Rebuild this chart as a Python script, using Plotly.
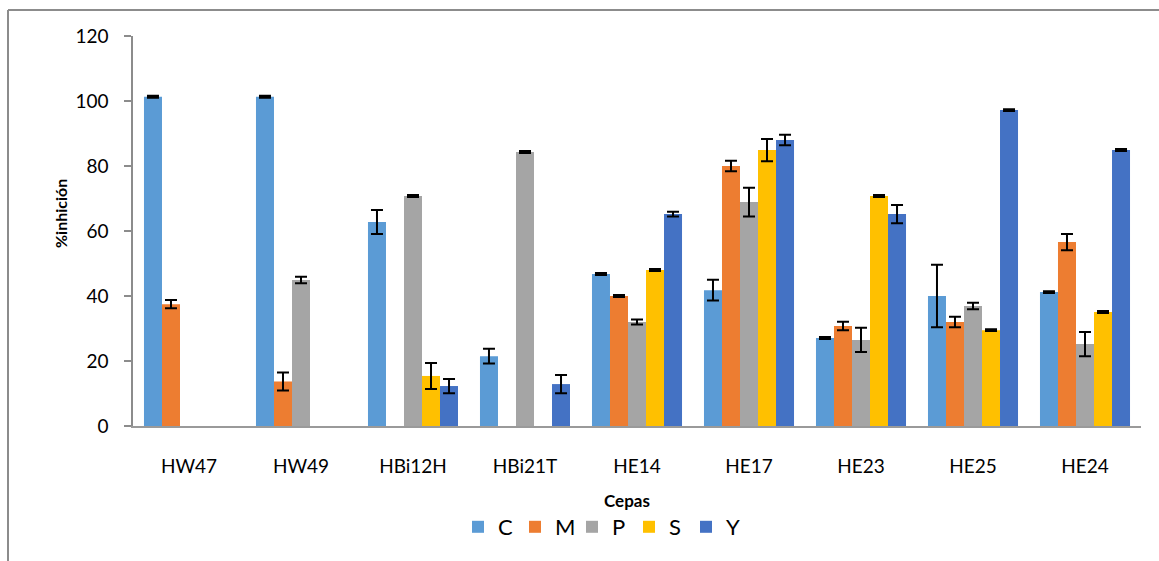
import plotly.graph_objects as go

cepas = ["HW47", "HW49", "HBi12H", "HBi21T", "HE14", "HE17", "HE23", "HE25", "HE24"]

c_vals = [101.3, 101.3, 62.8, 21.5, 46.8, 41.8, 27.1, 40.0, 41.2]
c_err = [0.3, 0.3, 3.7, 2.3, 0.3, 3.2, 0.3, 9.6, 0.3]

m_vals = [37.5, 13.7, None, None, 40.0, 80.0, 30.8, 32.0, 56.6]
m_err = [1.3, 2.8, 0, 0, 0.3, 1.6, 1.3, 1.6, 2.5]

p_vals = [None, 44.9, 70.8, 84.3, 32.0, 68.9, 26.5, 36.9, 25.2]
p_err = [0, 1.0, 0.3, 0.3, 0.8, 4.4, 3.7, 1.0, 3.7]

s_vals = [None, None, 15.4, None, 48.0, 84.9, 70.8, 29.5, 35.1]
s_err = [0, 0, 4.0, 0, 0.3, 3.4, 0.3, 0.3, 0.3]

y_vals = [None, None, 12.3, 12.9, 65.2, 88.0, 65.2, 97.2, 84.9]
y_err = [0, 0, 2.2, 2.8, 0.7, 1.6, 2.8, 0.3, 0.3]

series = [
    ("C", c_vals, c_err, "#5B9BD5"),
    ("M", m_vals, m_err, "#ED7D31"),
    ("P", p_vals, p_err, "#A5A5A5"),
    ("S", s_vals, s_err, "#FFC000"),
    ("Y", y_vals, y_err, "#4472C4"),
]

FONT = "Lato"

fig = go.Figure()
for name, vals, errs, color in series:
    fig.add_trace(go.Bar(
        name=name, x=cepas, y=vals,
        marker=dict(color=color, line=dict(width=0)),
        error_y=dict(type="data", array=errs, visible=True,
                     color="black", thickness=2, width=6),
    ))

# coordinates of the plot area in pixels
L, R, T, B = 133, 18, 36, 135
W, H = 1159, 561
pw, ph = W - L - R, H - T - B

def px_x(p):
    return (p - L) / pw

def px_y(p):
    return (H - B - p) / ph

fig.update_layout(
    width=W, height=H,
    barmode="group", bargap=0.196, bargroupgap=0,
    paper_bgcolor="white", plot_bgcolor="white",
    font=dict(family=FONT, color="#000000", size=19),
    margin=dict(l=L, r=R, t=T, b=B),
    showlegend=True,
    legend=dict(orientation="h", x=px_x(458), y=px_y(527),
                xanchor="left", yanchor="middle",
                font=dict(size=22, family=FONT), itemwidth=30,
                entrywidth=12, entrywidthmode="pixels",
                traceorder="normal"),
    xaxis=dict(showline=True, linecolor="#9a9a9a", linewidth=1.5,
               ticks="", showgrid=False, ticklabelstandoff=22,
               tickfont=dict(size=19, family=FONT)),
    yaxis=dict(range=[0, 120], dtick=20, showline=True, linecolor="#8c8c8c",
               linewidth=1.5, ticks="outside", ticklen=7, tickcolor="#8c8c8c",
               tickwidth=1.5, showgrid=False, zeroline=False,
               ticklabelstandoff=12, tickfont=dict(size=19, family=FONT)),
    annotations=[
        dict(text="<b>Cepas</b>", x=px_x(627), y=px_y(500), xref="paper", yref="paper",
             showarrow=False, font=dict(size=17, family=FONT), xanchor="center", yanchor="middle"),
        dict(text="<b>%inhición</b>", x=px_x(60), y=px_y(214), xref="paper", yref="paper",
             showarrow=False, textangle=-90, font=dict(size=16, family=FONT),
             xanchor="center", yanchor="middle"),
    ],
    shapes=[
        dict(type="line", xref="paper", yref="paper", x0=px_x(8), x1=px_x(1162),
             y0=px_y(10), y1=px_y(10), line=dict(color="#8c8c8c", width=2)),
        dict(type="line", xref="paper", yref="paper", x0=px_x(8), x1=px_x(8),
             y0=px_y(10), y1=px_y(565), line=dict(color="#8c8c8c", width=2)),
    ],
)

fig.write_html("out.html", config={"displayModeBar": False},
               post_script="document.body.style.margin='0';")
